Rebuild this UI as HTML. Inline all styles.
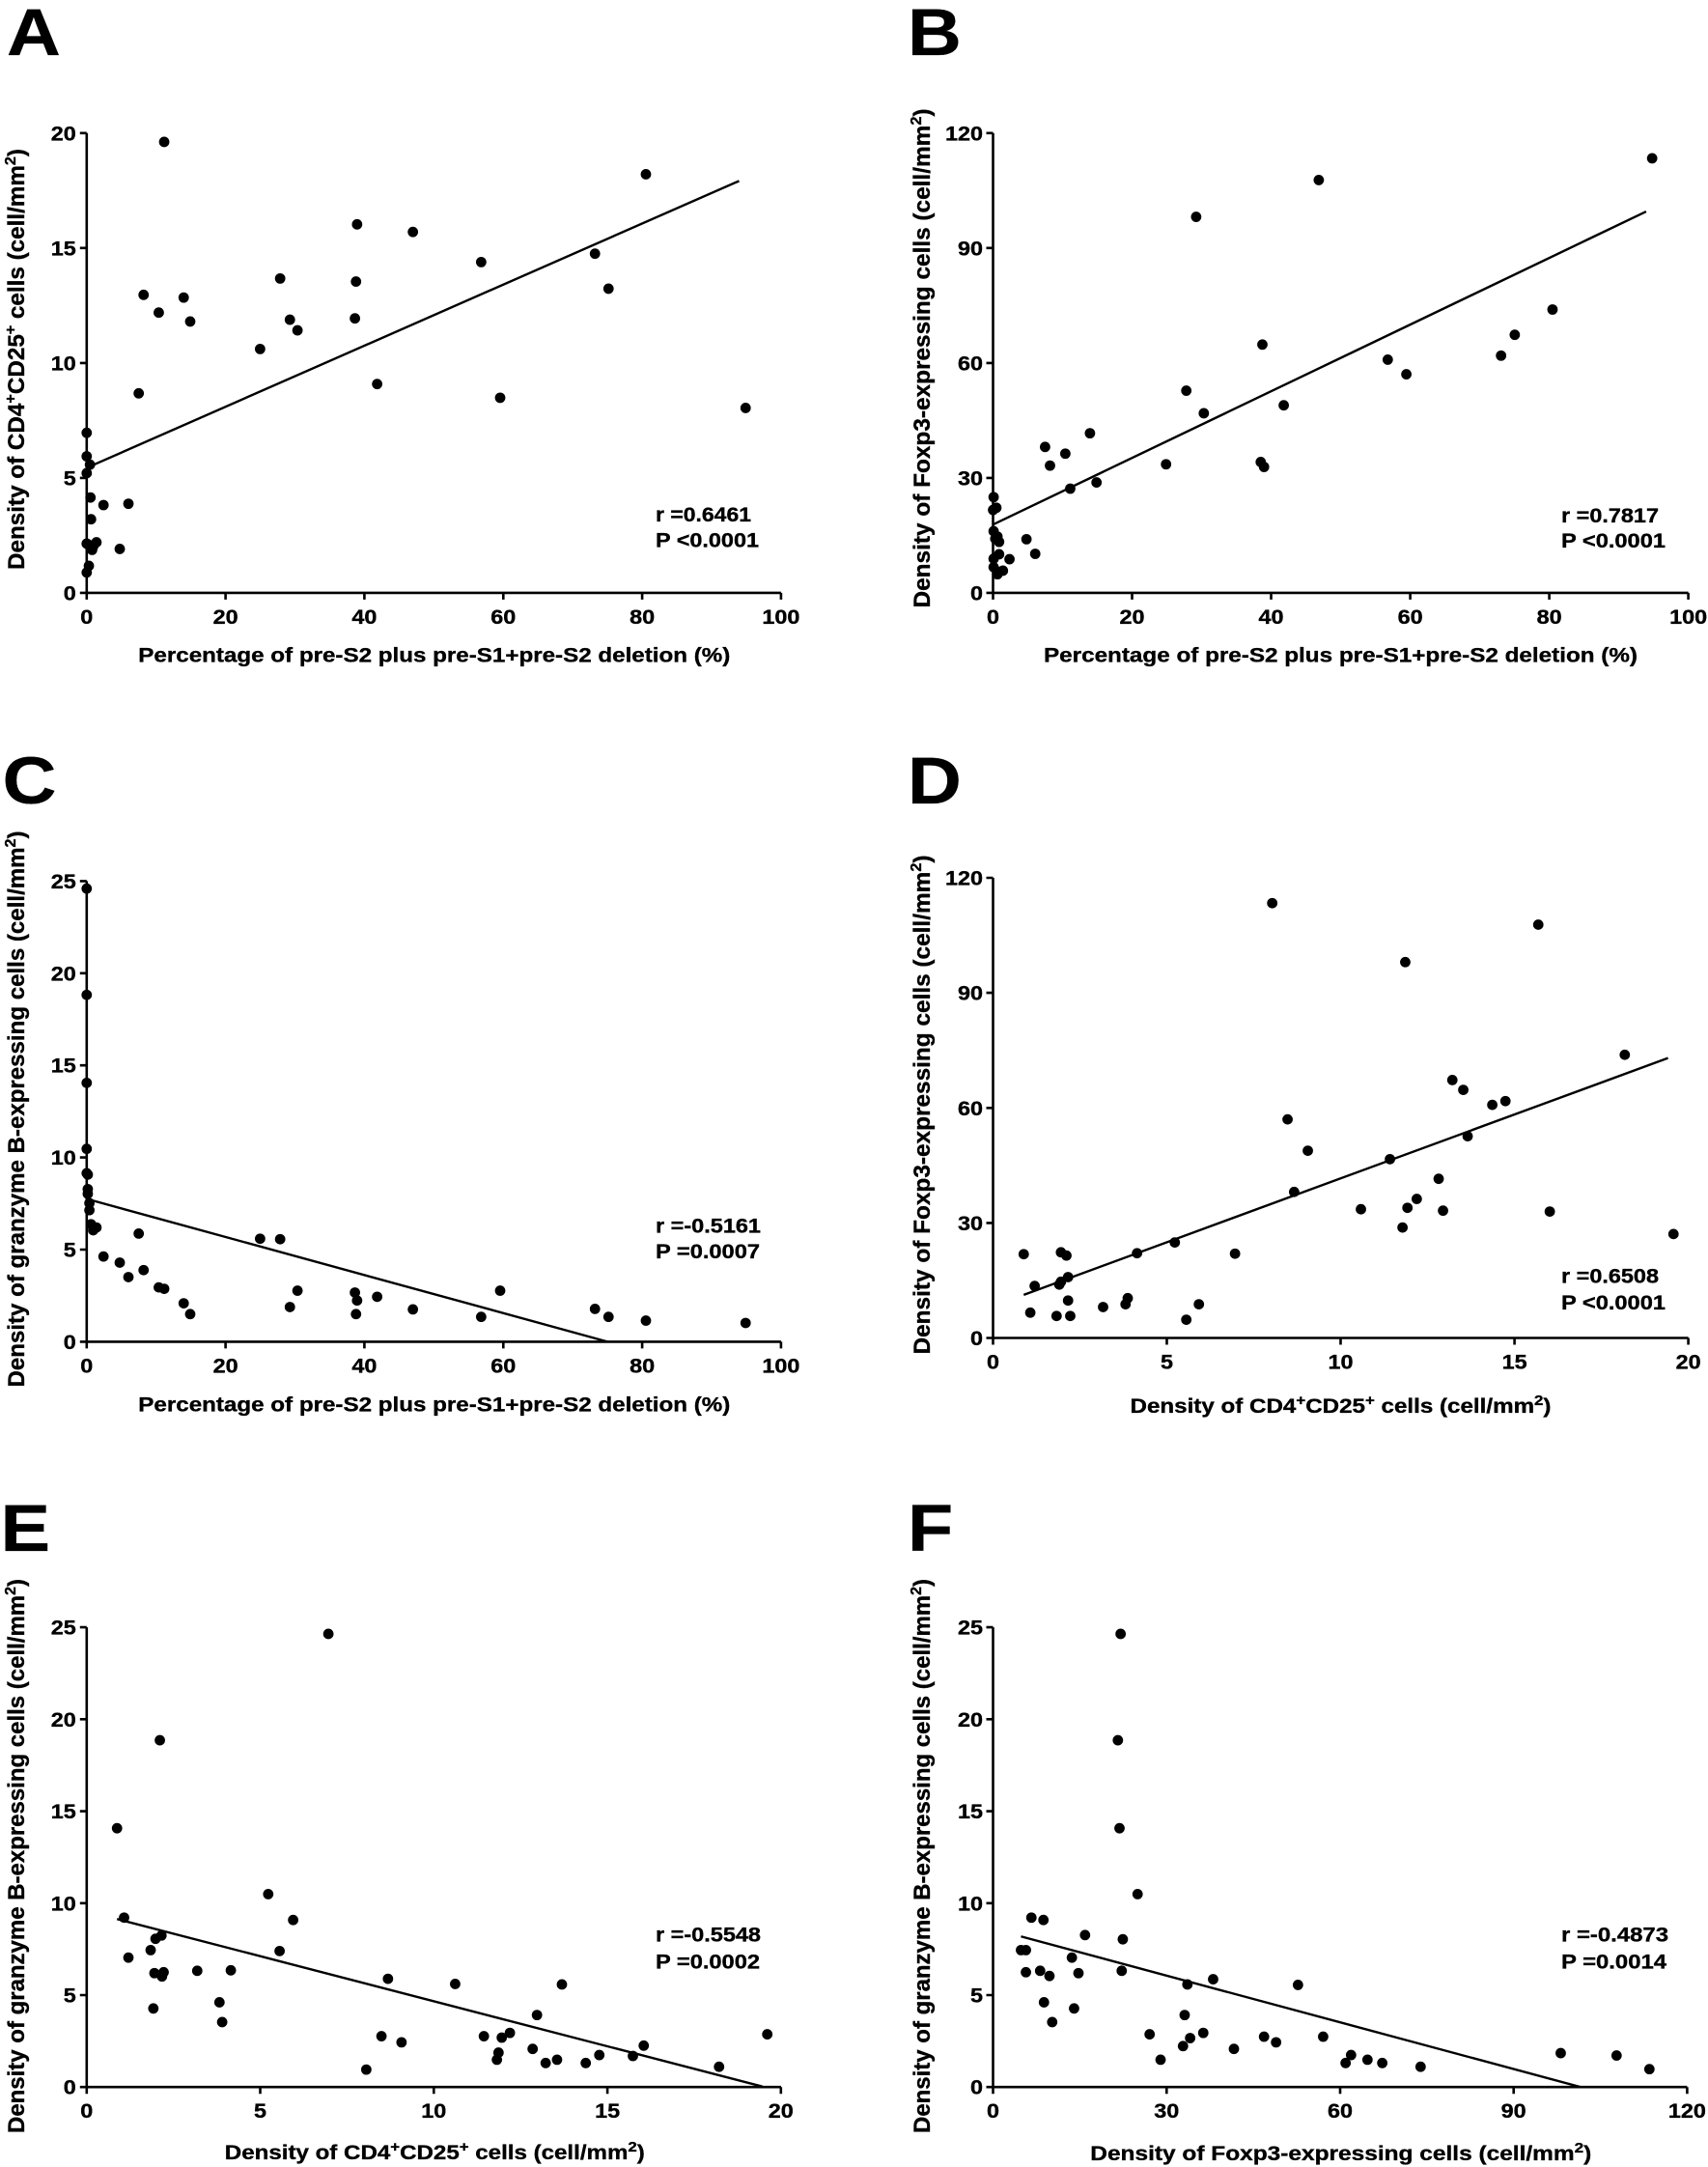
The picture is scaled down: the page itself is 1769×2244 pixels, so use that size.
<!DOCTYPE html>
<html>
<head>
<meta charset="utf-8">
<style>
html,body{margin:0;padding:0;background:#fff;}
svg{display:block;}
text{font-family:"Liberation Sans",Arial,sans-serif;font-weight:bold;fill:#000;stroke:#000;stroke-width:0.35;}
.tk{font-size:21px;}
.ti{font-size:21.5px;}
.yt{font-size:24px;}
.lt{font-size:69px;}
.ax{fill:none;stroke:#000;stroke-width:2.6;}
.rl{stroke:#000;stroke-width:2.4;fill:none;}
</style>
</head>
<body>
<svg width="1769" height="2244" viewBox="0 0 1769 2244" xmlns="http://www.w3.org/2000/svg">
<rect width="1769" height="2244" fill="#fff"/>
<defs>
<ellipse id="dA" rx="9.6" ry="11.8"/>
<ellipse id="dB" rx="9.5" ry="11.8"/>
<ellipse id="dC" rx="9.6" ry="11.1"/>
<ellipse id="dD" rx="9.5" ry="11.1"/>
<ellipse id="dE" rx="9.6" ry="11.1"/>
<ellipse id="dF" rx="9.5" ry="11.1"/>
</defs>

<!-- Panel letters -->
<text class="lt" transform="scale(1.12,1)" x="6.2" y="57">A</text>
<text class="lt" transform="scale(1.12,1)" x="839.3" y="57">B</text>
<text class="lt" transform="scale(1.12,1)" x="2.3" y="832">C</text>
<text class="lt" transform="scale(1.12,1)" x="839.3" y="832">D</text>
<text class="lt" transform="scale(1.12,1)" x="0.5" y="1606">E</text>
<text class="lt" transform="scale(1.12,1)" x="839.3" y="1606">F</text>

<!-- ================= PANEL A ================= -->
<path class="ax" d="M89.8 137.8V613.9H808.9 M82.8 613.9H89.8 M82.8 494.9H89.8 M82.8 375.9H89.8 M82.8 256.8H89.8 M82.8 137.8H89.8 M89.8 613.9V620.9 M233.6 613.9V620.9 M377.4 613.9V620.9 M521.3 613.9V620.9 M665.1 613.9V620.9 M808.9 613.9V620.9"/>
<g class="tk" text-anchor="end">
<text x="78.8" y="621.4" textLength="13" lengthAdjust="spacingAndGlyphs">0</text>
<text x="78.8" y="502.4" textLength="13" lengthAdjust="spacingAndGlyphs">5</text>
<text x="78.8" y="383.4" textLength="26" lengthAdjust="spacingAndGlyphs">10</text>
<text x="78.8" y="264.3" textLength="26" lengthAdjust="spacingAndGlyphs">15</text>
<text x="78.8" y="145.3" textLength="26" lengthAdjust="spacingAndGlyphs">20</text>
</g>
<g class="tk" text-anchor="middle">
<text x="89.8" y="645.9" textLength="13" lengthAdjust="spacingAndGlyphs">0</text>
<text x="233.6" y="645.9" textLength="26" lengthAdjust="spacingAndGlyphs">20</text>
<text x="377.4" y="645.9" textLength="26" lengthAdjust="spacingAndGlyphs">40</text>
<text x="521.3" y="645.9" textLength="26" lengthAdjust="spacingAndGlyphs">60</text>
<text x="665.1" y="645.9" textLength="26" lengthAdjust="spacingAndGlyphs">80</text>
<text x="808.9" y="645.9" textLength="39" lengthAdjust="spacingAndGlyphs">100</text>
</g>
<text class="ti" x="449.8" y="685.7" text-anchor="middle" textLength="613" lengthAdjust="spacingAndGlyphs">Percentage of pre-S2 plus pre-S1+pre-S2 deletion (%)</text>
<text class="yt" transform="translate(25,372) rotate(-90)" text-anchor="middle" textLength="436" lengthAdjust="spacingAndGlyphs">Density of CD4<tspan dy="-9" font-size="16">+</tspan><tspan dy="9">CD25</tspan><tspan dy="-9" font-size="16">+</tspan><tspan dy="9"> cells (cell/mm</tspan><tspan dy="-9" font-size="16">2</tspan><tspan dy="9">)</tspan></text>
<text class="ti" x="679" y="540" textLength="99" lengthAdjust="spacingAndGlyphs">r =0.6461</text>
<text class="ti" x="679" y="566.7" textLength="107" lengthAdjust="spacingAndGlyphs">P &lt;0.0001</text>
<g transform="matrix(0.56122 0 0 0.45918 0 0)">
<line class="rl" vector-effect="non-scaling-stroke" x1="160" y1="1055" x2="1364" y2="408"/>
<use href="#dA" x="303" y="320"/><use href="#dA" x="1192" y="393"/><use href="#dA" x="659" y="506"/><use href="#dA" x="762" y="523"/>
<use href="#dA" x="888" y="591"/><use href="#dA" x="1098" y="572"/><use href="#dA" x="1123" y="651"/><use href="#dA" x="517" y="628"/>
<use href="#dA" x="657" y="635"/><use href="#dA" x="265" y="665"/><use href="#dA" x="339" y="671"/><use href="#dA" x="293" y="705"/>
<use href="#dA" x="351" y="725"/><use href="#dA" x="535" y="721"/><use href="#dA" x="549" y="745"/><use href="#dA" x="655" y="718"/>
<use href="#dA" x="480" y="787"/><use href="#dA" x="696" y="866"/><use href="#dA" x="923" y="897"/><use href="#dA" x="1376" y="920"/>
<use href="#dA" x="256" y="887"/><use href="#dA" x="160" y="976"/><use href="#dA" x="160" y="1029"/><use href="#dA" x="166" y="1048"/>
<use href="#dA" x="160" y="1067"/><use href="#dA" x="167" y="1122"/><use href="#dA" x="191" y="1139"/><use href="#dA" x="237" y="1136"/>
<use href="#dA" x="168" y="1171"/><use href="#dA" x="221" y="1238"/><use href="#dA" x="160" y="1226"/><use href="#dA" x="163" y="1228"/>
<use href="#dA" x="170" y="1240"/><use href="#dA" x="178" y="1223"/><use href="#dA" x="172" y="1232"/><use href="#dA" x="164" y="1276"/>
<use href="#dA" x="160" y="1291"/>
</g>

<!-- ================= PANEL B ================= -->
<path class="ax" d="M1028.5 137.8V613.9H1748.6 M1021.5 613.9H1028.5 M1021.5 494.9H1028.5 M1021.5 375.9H1028.5 M1021.5 256.8H1028.5 M1021.5 137.8H1028.5 M1028.5 613.9V620.9 M1172.5 613.9V620.9 M1316.5 613.9V620.9 M1460.6 613.9V620.9 M1604.6 613.9V620.9 M1748.6 613.9V620.9"/>
<g class="tk" text-anchor="end">
<text x="1018" y="621.4" textLength="13" lengthAdjust="spacingAndGlyphs">0</text>
<text x="1018" y="502.4" textLength="26" lengthAdjust="spacingAndGlyphs">30</text>
<text x="1018" y="383.4" textLength="26" lengthAdjust="spacingAndGlyphs">60</text>
<text x="1018" y="264.3" textLength="26" lengthAdjust="spacingAndGlyphs">90</text>
<text x="1018" y="145.3" textLength="39" lengthAdjust="spacingAndGlyphs">120</text>
</g>
<g class="tk" text-anchor="middle">
<text x="1028.5" y="645.9" textLength="13" lengthAdjust="spacingAndGlyphs">0</text>
<text x="1172.5" y="645.9" textLength="26" lengthAdjust="spacingAndGlyphs">20</text>
<text x="1316.5" y="645.9" textLength="26" lengthAdjust="spacingAndGlyphs">40</text>
<text x="1460.6" y="645.9" textLength="26" lengthAdjust="spacingAndGlyphs">60</text>
<text x="1604.6" y="645.9" textLength="26" lengthAdjust="spacingAndGlyphs">80</text>
<text x="1748.6" y="645.9" textLength="39" lengthAdjust="spacingAndGlyphs">100</text>
</g>
<text class="ti" x="1388.5" y="685.7" text-anchor="middle" textLength="615" lengthAdjust="spacingAndGlyphs">Percentage of pre-S2 plus pre-S1+pre-S2 deletion (%)</text>
<text class="yt" transform="translate(963,371) rotate(-90)" text-anchor="middle" textLength="517" lengthAdjust="spacingAndGlyphs">Density of Foxp3-expressing cells (cell/mm<tspan dy="-9" font-size="16">2</tspan><tspan dy="9">)</tspan></text>
<text class="ti" x="1617" y="541" textLength="101" lengthAdjust="spacingAndGlyphs">r =0.7817</text>
<text class="ti" x="1617" y="567" textLength="108" lengthAdjust="spacingAndGlyphs">P &lt;0.0001</text>
<g transform="matrix(0.56695 0 0 0.45918 880 0)">
<line class="rl" vector-effect="non-scaling-stroke" x1="262" y1="1183" x2="1455" y2="477"/>
<use href="#dB" x="1466" y="357"/><use href="#dB" x="857" y="406"/><use href="#dB" x="633" y="489"/><use href="#dB" x="1284" y="698"/>
<use href="#dB" x="1215" y="755"/><use href="#dB" x="1190" y="802"/><use href="#dB" x="983" y="811"/><use href="#dB" x="1017" y="844"/>
<use href="#dB" x="754" y="777"/><use href="#dB" x="615" y="881"/><use href="#dB" x="793" y="914"/><use href="#dB" x="647" y="932"/>
<use href="#dB" x="439" y="977"/><use href="#dB" x="357" y="1008"/><use href="#dB" x="394" y="1023"/><use href="#dB" x="366" y="1050"/>
<use href="#dB" x="578" y="1047"/><use href="#dB" x="751" y="1042"/><use href="#dB" x="757" y="1053"/><use href="#dB" x="403" y="1102"/>
<use href="#dB" x="451" y="1088"/><use href="#dB" x="323" y="1216"/><use href="#dB" x="339" y="1249"/><use href="#dB" x="292" y="1261"/>
<use href="#dB" x="263" y="1121"/><use href="#dB" x="262" y="1150"/><use href="#dB" x="268" y="1145"/><use href="#dB" x="263" y="1198"/>
<use href="#dB" x="270" y="1210"/><use href="#dB" x="273" y="1222"/><use href="#dB" x="266" y="1215"/><use href="#dB" x="273" y="1250"/>
<use href="#dB" x="263" y="1260"/><use href="#dB" x="263" y="1279"/><use href="#dB" x="270" y="1289"/><use href="#dB" x="280" y="1287"/>
<use href="#dB" x="270" y="1295"/>
</g>

<!-- ================= PANEL C ================= -->
<path class="ax" d="M89.8 912.4V1389.4H808.9 M82.8 1389.4H89.8 M82.8 1294H89.8 M82.8 1198.6H89.8 M82.8 1103.2H89.8 M82.8 1007.8H89.8 M82.8 912.4H89.8 M89.8 1389.4V1396.4 M233.6 1389.4V1396.4 M377.4 1389.4V1396.4 M521.3 1389.4V1396.4 M665.1 1389.4V1396.4 M808.9 1389.4V1396.4"/>
<g class="tk" text-anchor="end">
<text x="78.8" y="1396.9" textLength="13" lengthAdjust="spacingAndGlyphs">0</text>
<text x="78.8" y="1301.5" textLength="13" lengthAdjust="spacingAndGlyphs">5</text>
<text x="78.8" y="1206.1" textLength="26" lengthAdjust="spacingAndGlyphs">10</text>
<text x="78.8" y="1110.7" textLength="26" lengthAdjust="spacingAndGlyphs">15</text>
<text x="78.8" y="1015.3" textLength="26" lengthAdjust="spacingAndGlyphs">20</text>
<text x="78.8" y="919.9" textLength="26" lengthAdjust="spacingAndGlyphs">25</text>
</g>
<g class="tk" text-anchor="middle">
<text x="89.8" y="1421.4" textLength="13" lengthAdjust="spacingAndGlyphs">0</text>
<text x="233.6" y="1421.4" textLength="26" lengthAdjust="spacingAndGlyphs">20</text>
<text x="377.4" y="1421.4" textLength="26" lengthAdjust="spacingAndGlyphs">40</text>
<text x="521.3" y="1421.4" textLength="26" lengthAdjust="spacingAndGlyphs">60</text>
<text x="665.1" y="1421.4" textLength="26" lengthAdjust="spacingAndGlyphs">80</text>
<text x="808.9" y="1421.4" textLength="39" lengthAdjust="spacingAndGlyphs">100</text>
</g>
<text class="ti" x="449.8" y="1461.5" text-anchor="middle" textLength="613" lengthAdjust="spacingAndGlyphs">Percentage of pre-S2 plus pre-S1+pre-S2 deletion (%)</text>
<text class="yt" transform="translate(25,1148.5) rotate(-90)" text-anchor="middle" textLength="576" lengthAdjust="spacingAndGlyphs">Density of granzyme B-expressing cells (cell/mm<tspan dy="-9" font-size="16">2</tspan><tspan dy="9">)</tspan></text>
<text class="ti" x="679" y="1276.4" textLength="109" lengthAdjust="spacingAndGlyphs">r =-0.5161</text>
<text class="ti" x="679" y="1303" textLength="108" lengthAdjust="spacingAndGlyphs">P =0.0007</text>
<g transform="matrix(0.56122 0 0 0.48469 0 720)">
<line class="rl" vector-effect="non-scaling-stroke" x1="160" y1="1076" x2="1121" y2="1381"/>
<use href="#dC" x="160" y="413"/><use href="#dC" x="160" y="640"/><use href="#dC" x="160" y="828"/><use href="#dC" x="160" y="969"/>
<use href="#dC" x="160" y="1021"/><use href="#dC" x="162" y="1024"/><use href="#dC" x="162" y="1055"/><use href="#dC" x="162" y="1065"/>
<use href="#dC" x="165" y="1085"/><use href="#dC" x="165" y="1100"/><use href="#dC" x="168" y="1130"/><use href="#dC" x="178" y="1137"/>
<use href="#dC" x="172" y="1143"/><use href="#dC" x="256" y="1150"/><use href="#dC" x="480" y="1161"/><use href="#dC" x="517" y="1162"/>
<use href="#dC" x="191" y="1199"/><use href="#dC" x="221" y="1212"/><use href="#dC" x="265" y="1228"/><use href="#dC" x="237" y="1243"/>
<use href="#dC" x="293" y="1265"/><use href="#dC" x="303" y="1268"/><use href="#dC" x="339" y="1299"/><use href="#dC" x="351" y="1322"/>
<use href="#dC" x="549" y="1272"/><use href="#dC" x="535" y="1307"/><use href="#dC" x="655" y="1276"/><use href="#dC" x="659" y="1293"/>
<use href="#dC" x="657" y="1322"/><use href="#dC" x="696" y="1285"/><use href="#dC" x="762" y="1312"/><use href="#dC" x="923" y="1272"/>
<use href="#dC" x="888" y="1328"/><use href="#dC" x="1098" y="1311"/><use href="#dC" x="1123" y="1328"/><use href="#dC" x="1192" y="1336"/>
<use href="#dC" x="1376" y="1341"/>
</g>

<!-- ================= PANEL D ================= -->
<path class="ax" d="M1028.5 909V1385.5H1748.6 M1021.5 1385.5H1028.5 M1021.5 1266.4H1028.5 M1021.5 1147.3H1028.5 M1021.5 1028.1H1028.5 M1021.5 909H1028.5 M1028.5 1385.5V1392.5 M1208.5 1385.5V1392.5 M1388.5 1385.5V1392.5 M1568.6 1385.5V1392.5 M1748.6 1385.5V1392.5"/>
<g class="tk" text-anchor="end">
<text x="1018" y="1393" textLength="13" lengthAdjust="spacingAndGlyphs">0</text>
<text x="1018" y="1273.9" textLength="26" lengthAdjust="spacingAndGlyphs">30</text>
<text x="1018" y="1154.8" textLength="26" lengthAdjust="spacingAndGlyphs">60</text>
<text x="1018" y="1035.6" textLength="26" lengthAdjust="spacingAndGlyphs">90</text>
<text x="1018" y="916.5" textLength="39" lengthAdjust="spacingAndGlyphs">120</text>
</g>
<g class="tk" text-anchor="middle">
<text x="1028.5" y="1417.5" textLength="13" lengthAdjust="spacingAndGlyphs">0</text>
<text x="1208.5" y="1417.5" textLength="13" lengthAdjust="spacingAndGlyphs">5</text>
<text x="1388.5" y="1417.5" textLength="26" lengthAdjust="spacingAndGlyphs">10</text>
<text x="1568.6" y="1417.5" textLength="26" lengthAdjust="spacingAndGlyphs">15</text>
<text x="1748.6" y="1417.5" textLength="26" lengthAdjust="spacingAndGlyphs">20</text>
</g>
<text class="ti" x="1388.5" y="1463" text-anchor="middle" textLength="436" lengthAdjust="spacingAndGlyphs">Density of CD4<tspan dy="-8" font-size="15">+</tspan><tspan dy="8">CD25</tspan><tspan dy="-8" font-size="15">+</tspan><tspan dy="8"> cells (cell/mm</tspan><tspan dy="-8" font-size="15">2</tspan><tspan dy="8">)</tspan></text>
<text class="yt" transform="translate(963,1144) rotate(-90)" text-anchor="middle" textLength="517" lengthAdjust="spacingAndGlyphs">Density of Foxp3-expressing cells (cell/mm<tspan dy="-9" font-size="16">2</tspan><tspan dy="9">)</tspan></text>
<text class="ti" x="1617" y="1328.3" textLength="101" lengthAdjust="spacingAndGlyphs">r =0.6508</text>
<text class="ti" x="1617" y="1355.9" textLength="108" lengthAdjust="spacingAndGlyphs">P &lt;0.0001</text>
<g transform="matrix(0.56695 0 0 0.48469 880 720)">
<line class="rl" vector-effect="non-scaling-stroke" x1="318" y1="1281" x2="1495" y2="775"/>
<use href="#dD" x="772" y="444"/><use href="#dD" x="1258" y="490"/><use href="#dD" x="1015" y="570"/><use href="#dD" x="1416" y="768"/>
<use href="#dD" x="1101" y="822"/><use href="#dD" x="1121" y="843"/><use href="#dD" x="1174" y="875"/><use href="#dD" x="1198" y="867"/>
<use href="#dD" x="800" y="906"/><use href="#dD" x="1129" y="942"/><use href="#dD" x="837" y="973"/><use href="#dD" x="987" y="991"/>
<use href="#dD" x="812" y="1061"/><use href="#dD" x="1076" y="1033"/><use href="#dD" x="1036" y="1076"/><use href="#dD" x="934" y="1098"/>
<use href="#dD" x="1019" y="1095"/><use href="#dD" x="1084" y="1101"/><use href="#dD" x="1279" y="1103"/><use href="#dD" x="1010" y="1137"/>
<use href="#dD" x="1505" y="1151"/><use href="#dD" x="594" y="1169"/><use href="#dD" x="318" y="1194"/><use href="#dD" x="386" y="1190"/>
<use href="#dD" x="396" y="1197"/><use href="#dD" x="525" y="1192"/><use href="#dD" x="704" y="1193"/><use href="#dD" x="399" y="1243"/>
<use href="#dD" x="386" y="1253"/><use href="#dD" x="383" y="1259"/><use href="#dD" x="338" y="1262"/><use href="#dD" x="399" y="1293"/>
<use href="#dD" x="508" y="1288"/><use href="#dD" x="504" y="1301"/><use href="#dD" x="463" y="1307"/><use href="#dD" x="638" y="1301"/>
<use href="#dD" x="330" y="1319"/><use href="#dD" x="378" y="1326"/><use href="#dD" x="403" y="1326"/><use href="#dD" x="615" y="1334"/>
</g>

<!-- ================= PANEL E ================= -->
<path class="ax" d="M89.8 1685.1V2161.2H808.9 M82.8 2161.2H89.8 M82.8 2066H89.8 M82.8 1970.8H89.8 M82.8 1875.6H89.8 M82.8 1780.3H89.8 M82.8 1685.1H89.8 M89.8 2161.2V2168.2 M269.5 2161.2V2168.2 M449.3 2161.2V2168.2 M629.1 2161.2V2168.2 M808.8 2161.2V2168.2"/>
<g class="tk" text-anchor="end">
<text x="78.8" y="2168.7" textLength="13" lengthAdjust="spacingAndGlyphs">0</text>
<text x="78.8" y="2073.5" textLength="13" lengthAdjust="spacingAndGlyphs">5</text>
<text x="78.8" y="1978.3" textLength="26" lengthAdjust="spacingAndGlyphs">10</text>
<text x="78.8" y="1883.1" textLength="26" lengthAdjust="spacingAndGlyphs">15</text>
<text x="78.8" y="1787.8" textLength="26" lengthAdjust="spacingAndGlyphs">20</text>
<text x="78.8" y="1692.6" textLength="26" lengthAdjust="spacingAndGlyphs">25</text>
</g>
<g class="tk" text-anchor="middle">
<text x="89.8" y="2193.2" textLength="13" lengthAdjust="spacingAndGlyphs">0</text>
<text x="269.5" y="2193.2" textLength="13" lengthAdjust="spacingAndGlyphs">5</text>
<text x="449.3" y="2193.2" textLength="26" lengthAdjust="spacingAndGlyphs">10</text>
<text x="629.1" y="2193.2" textLength="26" lengthAdjust="spacingAndGlyphs">15</text>
<text x="808.8" y="2193.2" textLength="26" lengthAdjust="spacingAndGlyphs">20</text>
</g>
<text class="ti" x="450.3" y="2236" text-anchor="middle" textLength="435" lengthAdjust="spacingAndGlyphs">Density of CD4<tspan dy="-8" font-size="15">+</tspan><tspan dy="8">CD25</tspan><tspan dy="-8" font-size="15">+</tspan><tspan dy="8"> cells (cell/mm</tspan><tspan dy="-8" font-size="15">2</tspan><tspan dy="8">)</tspan></text>
<text class="yt" transform="translate(25,1922) rotate(-90)" text-anchor="middle" textLength="574" lengthAdjust="spacingAndGlyphs">Density of granzyme B-expressing cells (cell/mm<tspan dy="-9" font-size="16">2</tspan><tspan dy="9">)</tspan></text>
<text class="ti" x="679" y="2010.5" textLength="109" lengthAdjust="spacingAndGlyphs">r =-0.5548</text>
<text class="ti" x="679" y="2038.5" textLength="108" lengthAdjust="spacingAndGlyphs">P =0.0002</text>
<g transform="matrix(0.56122 0 0 0.48724 0 1480)">
<line class="rl" vector-effect="non-scaling-stroke" x1="216" y1="1041" x2="1407" y2="1397"/>
<use href="#dE" x="606" y="435"/><use href="#dE" x="295" y="661"/><use href="#dE" x="216" y="848"/><use href="#dE" x="495" y="988"/>
<use href="#dE" x="229" y="1038"/><use href="#dE" x="541" y="1043"/><use href="#dE" x="287" y="1083"/><use href="#dE" x="298" y="1076"/>
<use href="#dE" x="278" y="1107"/><use href="#dE" x="516" y="1109"/><use href="#dE" x="237" y="1123"/><use href="#dE" x="285" y="1156"/>
<use href="#dE" x="299" y="1163"/><use href="#dE" x="302" y="1154"/><use href="#dE" x="364" y="1151"/><use href="#dE" x="426" y="1150"/>
<use href="#dE" x="283" y="1231"/><use href="#dE" x="405" y="1218"/><use href="#dE" x="410" y="1260"/><use href="#dE" x="716" y="1168"/>
<use href="#dE" x="840" y="1179"/><use href="#dE" x="1037" y="1180"/><use href="#dE" x="991" y="1245"/><use href="#dE" x="704" y="1290"/>
<use href="#dE" x="741" y="1303"/><use href="#dE" x="893" y="1290"/><use href="#dE" x="941" y="1283"/><use href="#dE" x="926" y="1293"/>
<use href="#dE" x="920" y="1325"/><use href="#dE" x="917" y="1340"/><use href="#dE" x="983" y="1317"/><use href="#dE" x="1007" y="1347"/>
<use href="#dE" x="1028" y="1340"/><use href="#dE" x="1081" y="1347"/><use href="#dE" x="1106" y="1330"/><use href="#dE" x="1168" y="1332"/>
<use href="#dE" x="1188" y="1310"/><use href="#dE" x="1327" y="1355"/><use href="#dE" x="1416" y="1286"/><use href="#dE" x="676" y="1361"/>
</g>

<!-- ================= PANEL F ================= -->
<path class="ax" d="M1028.5 1685.1V2161.2H1747.4 M1021.5 2161.2H1028.5 M1021.5 2066H1028.5 M1021.5 1970.8H1028.5 M1021.5 1875.6H1028.5 M1021.5 1780.3H1028.5 M1021.5 1685.1H1028.5 M1028.5 2161.2V2168.2 M1208.3 2161.2V2168.2 M1388 2161.2V2168.2 M1567.7 2161.2V2168.2 M1747.4 2161.2V2168.2"/>
<g class="tk" text-anchor="end">
<text x="1018" y="2168.7" textLength="13" lengthAdjust="spacingAndGlyphs">0</text>
<text x="1018" y="2073.5" textLength="13" lengthAdjust="spacingAndGlyphs">5</text>
<text x="1018" y="1978.3" textLength="26" lengthAdjust="spacingAndGlyphs">10</text>
<text x="1018" y="1883.1" textLength="26" lengthAdjust="spacingAndGlyphs">15</text>
<text x="1018" y="1787.8" textLength="26" lengthAdjust="spacingAndGlyphs">20</text>
<text x="1018" y="1692.6" textLength="26" lengthAdjust="spacingAndGlyphs">25</text>
</g>
<g class="tk" text-anchor="middle">
<text x="1028.5" y="2193.2" textLength="13" lengthAdjust="spacingAndGlyphs">0</text>
<text x="1208.3" y="2193.2" textLength="26" lengthAdjust="spacingAndGlyphs">30</text>
<text x="1388" y="2193.2" textLength="26" lengthAdjust="spacingAndGlyphs">60</text>
<text x="1567.7" y="2193.2" textLength="26" lengthAdjust="spacingAndGlyphs">90</text>
<text x="1747.4" y="2193.2" textLength="39" lengthAdjust="spacingAndGlyphs">120</text>
</g>
<text class="ti" x="1388.8" y="2237" text-anchor="middle" textLength="519" lengthAdjust="spacingAndGlyphs">Density of Foxp3-expressing cells (cell/mm<tspan dy="-8" font-size="15">2</tspan><tspan dy="8">)</tspan></text>
<text class="yt" transform="translate(963,1922) rotate(-90)" text-anchor="middle" textLength="574" lengthAdjust="spacingAndGlyphs">Density of granzyme B-expressing cells (cell/mm<tspan dy="-9" font-size="16">2</tspan><tspan dy="9">)</tspan></text>
<text class="ti" x="1617" y="2010.5" textLength="111" lengthAdjust="spacingAndGlyphs">r =-0.4873</text>
<text class="ti" x="1617" y="2038.5" textLength="109" lengthAdjust="spacingAndGlyphs">P =0.0014</text>
<g transform="matrix(0.56695 0 0 0.48724 880 1480)">
<line class="rl" vector-effect="non-scaling-stroke" x1="313" y1="1078" x2="1335" y2="1398"/>
<use href="#dF" x="495" y="435"/><use href="#dF" x="490" y="661"/><use href="#dF" x="493" y="848"/><use href="#dF" x="526" y="988"/>
<use href="#dF" x="332" y="1038"/><use href="#dF" x="354" y="1043"/><use href="#dF" x="430" y="1075"/><use href="#dF" x="499" y="1084"/>
<use href="#dF" x="313" y="1107"/><use href="#dF" x="322" y="1107"/><use href="#dF" x="406" y="1123"/><use href="#dF" x="322" y="1154"/>
<use href="#dF" x="348" y="1151"/><use href="#dF" x="365" y="1162"/><use href="#dF" x="418" y="1156"/><use href="#dF" x="497" y="1151"/>
<use href="#dF" x="355" y="1218"/><use href="#dF" x="410" y="1231"/><use href="#dF" x="370" y="1260"/><use href="#dF" x="664" y="1169"/>
<use href="#dF" x="617" y="1180"/><use href="#dF" x="819" y="1181"/><use href="#dF" x="612" y="1245"/><use href="#dF" x="548" y="1286"/>
<use href="#dF" x="646" y="1283"/><use href="#dF" x="622" y="1294"/><use href="#dF" x="609" y="1311"/><use href="#dF" x="568" y="1340"/>
<use href="#dF" x="702" y="1317"/><use href="#dF" x="757" y="1291"/><use href="#dF" x="779" y="1303"/><use href="#dF" x="865" y="1291"/>
<use href="#dF" x="916" y="1330"/><use href="#dF" x="906" y="1347"/><use href="#dF" x="946" y="1340"/><use href="#dF" x="973" y="1347"/>
<use href="#dF" x="1043" y="1355"/><use href="#dF" x="1299" y="1326"/><use href="#dF" x="1401" y="1331"/><use href="#dF" x="1461" y="1360"/>
</g>
</svg>
</body>
</html>
